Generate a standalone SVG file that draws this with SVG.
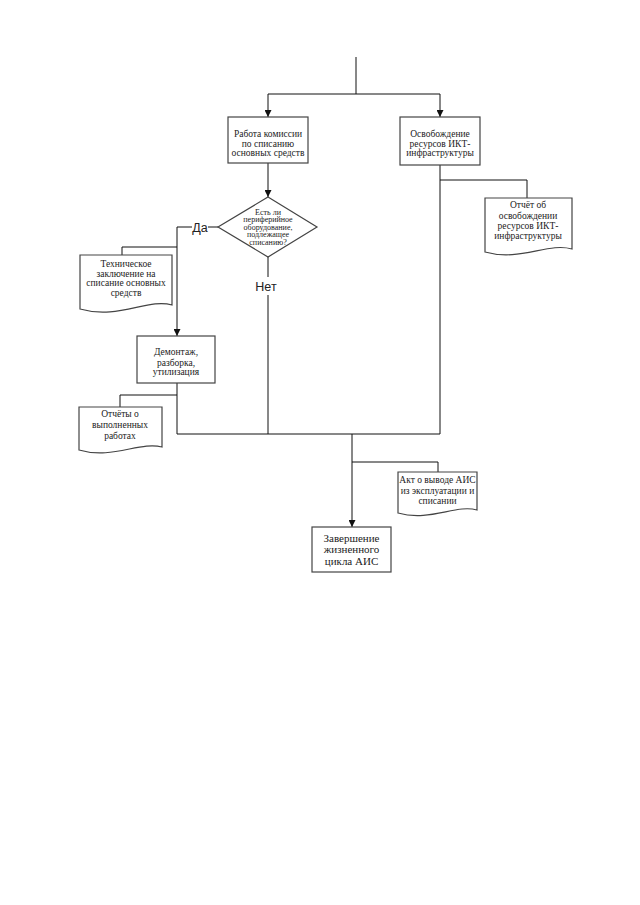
<svg xmlns="http://www.w3.org/2000/svg" width="640" height="905" viewBox="0 0 640 905">
<style>
.bg{fill:#ffffff}
.box{fill:#ffffff;stroke:#444444;stroke-width:1.2}
.ln{fill:none;stroke:#111111;stroke-width:1}
.t{font-family:"Liberation Serif","Times New Roman",serif;font-size:9.5px;fill:#222222;text-anchor:middle}
.ts{font-family:"Liberation Serif","Times New Roman",serif;font-size:8px;fill:#222222;text-anchor:middle}
.tb{font-family:"Liberation Serif","Times New Roman",serif;font-size:11px;fill:#222222;text-anchor:middle}
.lab{font-family:"Liberation Sans",Arial,sans-serif;font-size:12.5px;fill:#222222;text-anchor:middle}
</style>
<defs>
<marker id="arr" viewBox="0 0 10 10" refX="10" refY="5" markerWidth="7" markerHeight="7" orient="auto" markerUnits="userSpaceOnUse">
<path d="M0,0 L10,5 L0,10 Z" fill="#111111"/>
</marker>
</defs>
<rect class="bg" x="0" y="0" width="640" height="905"/>

<g id="connectors">
<path class="ln" d="M356,57 V94"/>
<path class="ln" d="M268,94 H440"/>
<path class="ln" d="M268,94 V117" marker-end="url(#arr)"/>
<path class="ln" d="M440,94 V117" marker-end="url(#arr)"/>
<path class="ln" d="M268,163 V197" marker-end="url(#arr)"/>
<path class="ln" d="M218,227 H208"/>
<path class="ln" d="M192,227 H177 V336" marker-end="url(#arr)"/>
<path class="ln" d="M177,247 H122 V255"/>
<path class="ln" d="M268,257 V277"/>
<path class="ln" d="M268,295 V434"/>
<path class="ln" d="M177,383 V434 H440 V165"/>
<path class="ln" d="M177,395 H120 V407"/>
<path class="ln" d="M440,180 H527 V198"/>
<path class="ln" d="M352,434 V527" marker-end="url(#arr)"/>
<path class="ln" d="M352,462 H438 V472"/>
</g>

<g id="n-commission">
<rect class="box" x="228" y="117" width="80" height="46"/>
<text class="t" x="268" y="137">Работа комиссии</text>
<text class="t" x="268" y="146.5">по списанию</text>
<text class="t" x="268" y="156">основных средств</text>
</g>

<g id="n-release">
<rect class="box" x="400" y="117" width="80" height="48"/>
<text class="t" x="440" y="137">Освобождение</text>
<text class="t" x="440" y="146.5">ресурсов ИКТ-</text>
<text class="t" x="440" y="156">инфраструктуры</text>
</g>

<g id="n-decision">
<polygon class="box" points="268,197 317,227 268,257 218,227"/>
<text class="ts" x="268" y="214.5">Есть ли</text>
<text class="ts" x="268" y="222">периферийное</text>
<text class="ts" x="268" y="229.5">оборудование,</text>
<text class="ts" x="268" y="237">подлежащее</text>
<text class="ts" x="268" y="244.5">списанию?</text>
</g>

<g id="lab-yes"><text class="lab" x="200" y="231.5">Да</text></g>
<g id="lab-no"><text class="lab" x="266" y="291">Нет</text></g>

<g id="n-report-release">
<path class="box" d="M485,198 H572 V249 C548,242 520,262 485,252 Z"/>
<text class="t" x="528" y="208">Отчёт об</text>
<text class="t" x="528" y="219">освобождении</text>
<text class="t" x="528" y="229">ресурсов ИКТ-</text>
<text class="t" x="528" y="239">инфраструктуры</text>
</g>

<g id="n-tech">
<path class="box" d="M80,255 H172 V305 C148,298 118,320 80,309 Z"/>
<text class="t" x="126" y="267">Техническое</text>
<text class="t" x="126" y="276.5">заключение на</text>
<text class="t" x="126" y="286">списание основных</text>
<text class="t" x="126" y="296">средств</text>
</g>

<g id="n-dismantle">
<rect class="box" x="137" y="336" width="78" height="47"/>
<text class="t" x="176" y="355">Демонтаж,</text>
<text class="t" x="176" y="365.5">разборка,</text>
<text class="t" x="176" y="375">утилизация</text>
</g>

<g id="n-reports">
<path class="box" d="M79,407 H162 V447 C140,441 112,460 79,450 Z"/>
<text class="t" x="120" y="417">Отчёты о</text>
<text class="t" x="120" y="428">выполненных</text>
<text class="t" x="120" y="439">работах</text>
</g>

<g id="n-act">
<path class="box" d="M398,472 H477 V510 C456,504 430,522 398,513 Z"/>
<text class="t" x="437.5" y="483">Акт о выводе АИС</text>
<text class="t" x="437.5" y="494">из эксплуатации и</text>
<text class="t" x="437.5" y="504">списании</text>
</g>

<g id="n-finish">
<rect class="box" x="312" y="527" width="79" height="45"/>
<text class="tb" x="351.5" y="541.5">Завершение</text>
<text class="tb" x="351.5" y="553">жизненного</text>
<text class="tb" x="351.5" y="565">цикла АИС</text>
</g>
</svg>
